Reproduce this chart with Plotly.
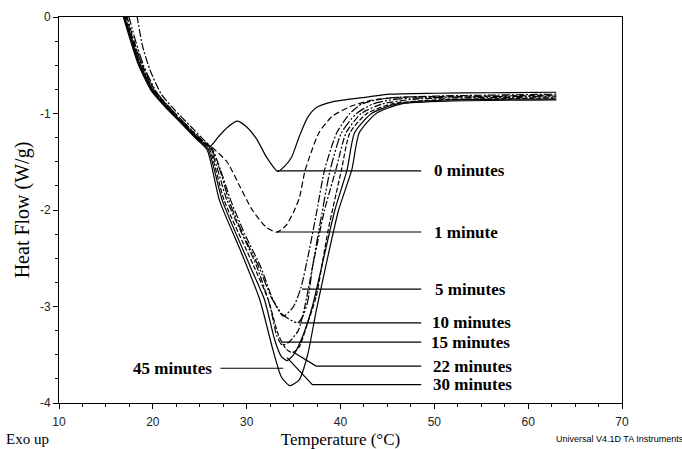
import plotly.graph_objects as go

# ---- data (Temperature in °C, Heat Flow in W/g) ----
labels = ["0 minutes", "1 minute", "5 minutes", "10 minutes", "15 minutes",
          "22 minutes", "30 minutes", "45 minutes"]

t_0 = [16.9, 17.8, 18.6, 20.0, 21.5, 23.2, 25.0, 26.1, 27.0, 28.0, 29.0, 30.0, 31.1,
       32.1, 33.3, 34.0, 34.8, 35.6, 36.5, 37.4, 39.1, 42.8, 45.2, 50.0, 56.0, 63.0]
hf_0 = [0.02, -0.24, -0.48, -0.76, -0.93, -1.10, -1.27, -1.34, -1.24, -1.14, -1.08, -1.14, -1.27,
        -1.45, -1.60, -1.55, -1.45, -1.24, -1.04, -0.94, -0.88, -0.83, -0.80, -0.79, -0.785, -0.78]

t_1 = [17.1, 17.9, 18.8, 20.2, 21.7, 23.4, 25.1, 26.3, 27.9, 29.3, 30.6, 32.1, 33.2, 34.2,
       35.0, 35.6, 36.2, 36.7, 37.7, 39.1, 41.0, 43.4, 47.0, 55.0, 63.0]
hf_1 = [0.02, -0.24, -0.48, -0.76, -0.93, -1.10, -1.27, -1.35, -1.50, -1.76, -2.00, -2.18, -2.23, -2.16,
        -2.02, -1.88, -1.60, -1.45, -1.20, -1.03, -0.93, -0.86, -0.83, -0.82, -0.81]

t_5 = [18.3, 18.9, 19.7, 20.9, 22.4, 24.0, 25.4, 26.3, 27.2, 28.3, 29.8, 31.5, 32.8, 33.9,
       35.0, 35.8, 36.6, 37.5, 38.3, 39.6, 41.0, 42.3, 45.0, 50.0, 63.0]
hf_5 = [0.02, -0.30, -0.55, -0.80, -0.97, -1.13, -1.27, -1.36, -1.58, -1.90, -2.25, -2.59, -2.93, -3.10,
        -3.00, -2.80, -2.45, -2.00, -1.585, -1.20, -1.00, -0.90, -0.84, -0.82, -0.80]

t_10 = [17.4, 18.2, 19.0, 20.4, 21.9, 23.5, 25.2, 26.2, 27.2, 28.1, 29.6, 31.3, 32.6, 33.8,
        35.4, 36.0, 36.5, 37.0, 37.9, 38.9, 40.1, 41.7, 43.5, 46.0, 52.0, 63.0]
hf_10 = [0.02, -0.26, -0.50, -0.78, -0.95, -1.11, -1.27, -1.36, -1.60, -1.90, -2.25, -2.59, -2.90, -3.08,
         -3.17, -3.10, -2.95, -2.60, -2.10, -1.585, -1.20, -1.00, -0.90, -0.85, -0.83, -0.82]

t_15 = [17.2, 18.0, 18.8, 20.2, 21.7, 23.3, 25.0, 26.1, 27.9, 31.1, 32.5, 33.2, 33.8, 34.5,
        35.5, 36.2, 37.0, 38.3, 39.5, 40.6, 42.2, 44.5, 48.0, 55.0, 63.0]
hf_15 = [0.02, -0.25, -0.49, -0.77, -0.94, -1.11, -1.28, -1.36, -1.90, -2.59, -3.00, -3.30, -3.40, -3.37,
         -3.25, -3.00, -2.60, -2.00, -1.585, -1.20, -1.00, -0.90, -0.85, -0.835, -0.83]

t_22 = [17.0, 17.8, 18.6, 20.0, 21.5, 23.2, 24.9, 26.0, 27.6, 30.8, 32.3, 33.4, 34.2, 34.9,
        35.6, 36.4, 37.4, 38.7, 40.1, 41.0, 42.8, 45.5, 50.0, 63.0]
hf_22 = [0.02, -0.24, -0.48, -0.76, -0.93, -1.10, -1.27, -1.36, -1.90, -2.59, -2.93, -3.30, -3.44, -3.48,
         -3.42, -3.20, -2.90, -2.20, -1.585, -1.20, -1.00, -0.90, -0.86, -0.84]

t_30 = [16.9, 17.7, 18.5, 19.9, 21.4, 23.1, 24.8, 25.9, 27.4, 30.4, 31.9, 33.0, 33.7, 34.3,
        35.0, 36.0, 37.0, 38.2, 39.4, 40.7, 41.5, 43.3, 46.0, 51.0, 63.0]
hf_30 = [0.02, -0.24, -0.48, -0.76, -0.93, -1.10, -1.27, -1.37, -1.90, -2.59, -2.93, -3.35, -3.52, -3.56,
         -3.50, -3.30, -3.00, -2.50, -2.00, -1.585, -1.20, -1.00, -0.90, -0.86, -0.85]

t_45 = [16.8, 17.6, 18.4, 19.8, 21.3, 23.0, 24.7, 25.8, 27.1, 29.3, 31.4, 32.8, 33.7, 34.6,
        35.6, 36.5, 37.4, 38.5, 39.8, 41.2, 42.0, 43.8, 46.5, 52.0, 63.0]
hf_45 = [0.02, -0.24, -0.48, -0.76, -0.93, -1.10, -1.27, -1.38, -1.90, -2.41, -2.93, -3.45, -3.73, -3.82,
         -3.76, -3.50, -3.05, -2.55, -2.00, -1.585, -1.20, -1.00, -0.90, -0.87, -0.86]

x_ticks = [10, 20, 30, 40, 50, 60, 70]
y_ticks = [0, -1, -2, -3, -4]
y_ticktext = ["0", "-1", "-2", "-3", "-4"]

series_t = [t_0, t_1, t_5, t_10, t_15, t_22, t_30, t_45]
series_hf = [hf_0, hf_1, hf_5, hf_10, hf_15, hf_22, hf_30, hf_45]

# ---- styles ----
dashes = ["solid", "6px,3px", "8px,2px,2px,2px", "10px,2px,2px,2px,2px,2px",
          "7px,2px,2px,2px", "5px,2px", "solid", "solid"]

fig = go.Figure()
for name, tx, hy, d in zip(labels, series_t, series_hf, dashes):
    fig.add_trace(go.Scatter(x=tx, y=hy, mode="lines", name=name,
                             line=dict(color="black", width=1.2, dash=d,
                                       shape="spline", smoothing=0.6)))

# label leader lines (anchor on curve -> label) in data coordinates
leaders = [
    ("0 minutes", [(33.3, -1.595), (48.6, -1.595)], 49.8, -1.595, "left"),
    ("1 minute", [(33.2, -2.228), (48.6, -2.228)], 49.8, -2.228, "left"),
    ("5 minutes", [(35.9, -2.82), (48.6, -2.82)], 49.9, -2.82, "left"),
    ("10 minutes", [(35.6, -3.17), (48.6, -3.17)], 49.5, -3.17, "left"),
    ("15 minutes", [(33.7, -3.37), (48.6, -3.37)], 49.4, -3.37, "left"),
    ("22 minutes", [(34.9, -3.47), (37.4, -3.617), (48.6, -3.617)], 49.6, -3.617, "left"),
    ("30 minutes", [(34.3, -3.53), (37.0, -3.81), (48.6, -3.81)], 49.6, -3.81, "left"),
    ("45 minutes", [(33.9, -3.64), (27.2, -3.64)], 26.5, -3.64, "right"),
]
for text, pts, tx, ty, anc in leaders:
    path = "M " + " L ".join(f"{p[0]},{p[1]}" for p in pts)
    fig.add_shape(type="path", path=path, xref="x", yref="y",
                  line=dict(color="black", width=1.2))
    fig.add_annotation(x=tx, y=ty, xref="x", yref="y", text=f"<b>{text}</b>",
                       showarrow=False, xanchor=anc, yanchor="middle",
                       font=dict(family="Liberation Serif", size=17, color="black"))

fig.add_annotation(x=0, y=0, xref="paper", yref="paper", text="Exo up",
                   showarrow=False, xanchor="left", yanchor="top",
                   xshift=-55, yshift=-26,
                   font=dict(family="Liberation Serif", size=15, color="black"))
fig.add_annotation(x=1, y=0, xref="paper", yref="paper",
                   text="Universal V4.1D TA Instruments",
                   showarrow=False, xanchor="left", yanchor="top",
                   xshift=-68, yshift=-29,
                   font=dict(family="Liberation Sans", size=9, color="black"))

axis_common = dict(showline=True, linecolor="black", linewidth=1, mirror=True,
                   ticks="outside", ticklen=5, tickcolor="black", showgrid=False,
                   zeroline=False, automargin=False,
                   tickfont=dict(family="Liberation Sans Narrow, Liberation Sans", size=12, color="#222"))

fig.update_xaxes(range=[10, 70], tickvals=x_ticks, ticklabelstandoff=3, **axis_common,
                 minor=dict(dtick=2.5, ticks="outside", ticklen=3, tickcolor="black"),
                 title=dict(text="Temperature (°C)", standoff=5,
                            font=dict(family="Liberation Serif", size=17, color="black")))
fig.update_yaxes(range=[-4, 0], tickvals=y_ticks, ticktext=y_ticktext, **axis_common,
                 minor=dict(dtick=0.25, ticks="outside", ticklen=3, tickcolor="black"),
                 title=dict(text="Heat Flow (W/g)", standoff=4,
                            font=dict(family="Liberation Serif", size=20, color="black")))

fig.update_layout(width=682, height=449, margin=dict(l=59, r=60, t=17, b=46),
                  plot_bgcolor="white", paper_bgcolor="white", showlegend=False)

fig.write_html("out.html")
